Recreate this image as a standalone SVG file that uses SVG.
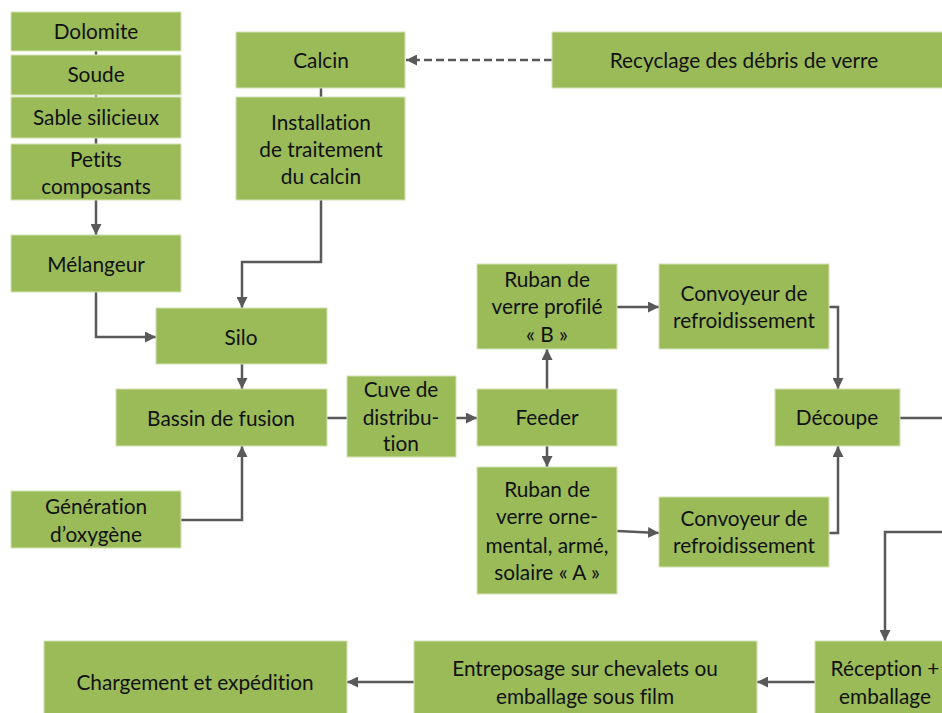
<svg xmlns="http://www.w3.org/2000/svg" width="942" height="713" viewBox="0 0 942 713">
<style>
.n rect{fill:#9BBB59;stroke:#d3e2b6;stroke-width:1}
.n text{font-family:Lato,"Open Sans","Liberation Sans",sans-serif;font-size:20.8px;fill:#111;text-anchor:middle;font-variant-ligatures:none}
.c path{fill:none;stroke:#595959;stroke-width:2.5}
.c .a{marker-end:url(#ah)}
.c .d{stroke-dasharray:8 4}
</style>
<defs>
<marker id="ah" viewBox="0 0 10 10" markerWidth="11" markerHeight="11" markerUnits="userSpaceOnUse" refX="10" refY="5" orient="auto">
<path d="M0,0 L10,5 L0,10 z" fill="#595959"/>
</marker>
</defs>
<rect width="942" height="713" fill="#fff"/>
<g class="c" id="connectors">
<path d="M96 51 V55"/>
<path d="M96 95 V97"/>
<path d="M96 138 V144"/>
<path class="a" d="M96 200 V235"/>
<path d="M321 88 V97"/>
<path class="a d" d="M552 60 H406"/>
<path class="a" d="M321 200 V262 H242 V308"/>
<path class="a" d="M96 292 V337 H156"/>
<path class="a" d="M242 364 V389"/>
<path class="a" d="M180 520 H242 V446"/>
<path d="M327 418 H347"/>
<path class="a" d="M456 418 H477"/>
<path class="a" d="M547 389 V349"/>
<path class="a" d="M547 446 V467"/>
<path class="a" d="M617 307 H659"/>
<path class="a" d="M617 531 L659 533"/>
<path class="a" d="M829 307 H838 V389"/>
<path class="a" d="M829 533 H838 V446"/>
<path class="a" d="M900 418 H955 V532 H885 V641"/>
<path class="a" d="M815 682 H757"/>
<path class="a" d="M414 682 H347"/>
</g>
<g class="n" id="dolomite"><rect x="11" y="12" width="170" height="39"/><text x="96" y="38.5">Dolomite</text></g>
<g class="n" id="soude"><rect x="11" y="55" width="170" height="40"/><text x="96" y="82">Soude</text></g>
<g class="n" id="sable"><rect x="11" y="97" width="170" height="41"/><text x="96" y="124.5">Sable silicieux</text></g>
<g class="n" id="petits"><rect x="11" y="144" width="170" height="56"/><text x="96" y="167">Petits</text><text x="96" y="194">composants</text></g>
<g class="n" id="melangeur"><rect x="11" y="235" width="170" height="57"/><text x="96" y="272">Mélangeur</text></g>
<g class="n" id="calcin"><rect x="236" y="32" width="169" height="56"/><text x="321" y="68">Calcin</text></g>
<g class="n" id="installation"><rect x="236" y="97" width="169" height="103"/><text x="321" y="130">Installation</text><text x="321" y="157">de traitement</text><text x="321" y="184">du calcin</text></g>
<g class="n" id="recyclage"><rect x="552" y="32" width="400" height="56"/><text x="744" y="68">Recyclage des débris de verre</text></g>
<g class="n" id="silo"><rect x="156" y="308" width="171" height="56"/><text x="241" y="345">Silo</text></g>
<g class="n" id="bassin"><rect x="116" y="389" width="211" height="57"/><text x="221" y="426">Bassin de fusion</text></g>
<g class="n" id="cuve"><rect x="347" y="376" width="109" height="81"/><text x="401" y="397">Cuve de</text><text x="401" y="425">distribu-</text><text x="401" y="451">tion</text></g>
<g class="n" id="generation"><rect x="11" y="491" width="170" height="57"/><text x="96" y="514">Génération</text><text x="96" y="542">d’oxygène</text></g>
<g class="n" id="rubanB"><rect x="477" y="264" width="140" height="85"/><text x="547" y="287">Ruban de</text><text x="547" y="314">verre profilé</text><text x="547" y="342">« B »</text></g>
<g class="n" id="convoyeur1"><rect x="659" y="264" width="170" height="85"/><text x="744" y="301">Convoyeur de</text><text x="744" y="328">refroidissement</text></g>
<g class="n" id="feeder"><rect x="477" y="389" width="140" height="57"/><text x="547" y="425">Feeder</text></g>
<g class="n" id="rubanA"><rect x="477" y="467" width="140" height="127"/><text x="547" y="497">Ruban de</text><text x="547" y="524">verre orne-</text><text x="547" y="553">mental, armé,</text><text x="547" y="580">solaire « A »</text></g>
<g class="n" id="convoyeur2"><rect x="659" y="497" width="170" height="70"/><text x="744" y="526">Convoyeur de</text><text x="744" y="553">refroidissement</text></g>
<g class="n" id="decoupe"><rect x="775" y="389" width="125" height="57"/><text x="837" y="425">Découpe</text></g>
<g class="n" id="chargement"><rect x="44" y="641" width="303" height="80"/><text x="195" y="690">Chargement et expédition</text></g>
<g class="n" id="entreposage"><rect x="414" y="641" width="343" height="80"/><text x="585" y="676">Entreposage sur chevalets ou</text><text x="585" y="704">emballage sous film</text></g>
<g class="n" id="reception"><rect x="815" y="641" width="140" height="80"/><text x="885" y="676">Réception +</text><text x="885" y="704">emballage</text></g>
</svg>
